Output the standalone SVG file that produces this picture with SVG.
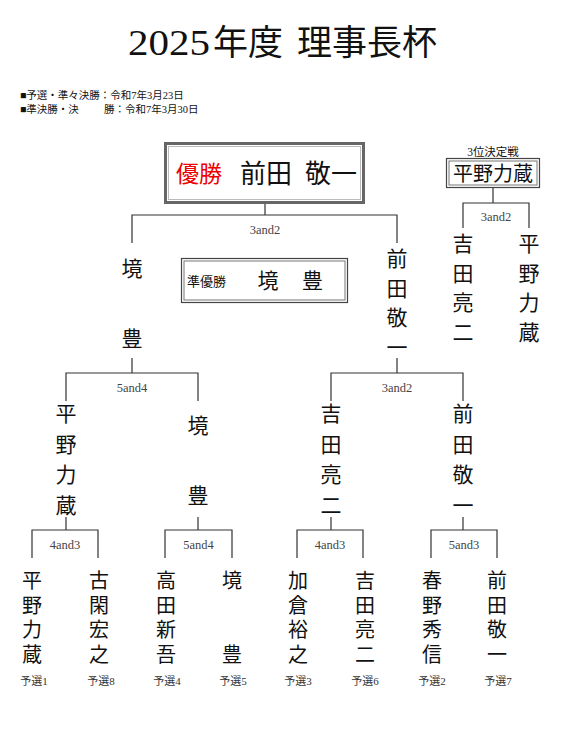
<svg xmlns="http://www.w3.org/2000/svg" width="567" height="730" viewBox="0 0 567 730">
<style>
text{font-family:"Liberation Serif","Noto Sans CJK JP",serif;fill:#111}
.t{font-size:35px}
.note{font-size:10.5px}
.sc{font-size:12.5px;fill:#444;text-anchor:middle}
.q{font-size:11px;fill:#333;text-anchor:middle}
.n2{font-size:21px;text-anchor:middle}
.n3{font-size:20px;text-anchor:middle}
.con{fill:none;stroke:#333;stroke-width:1.2}
</style>
<rect width="567" height="730" fill="#fff"/>
<g id="title">
<text class="t" x="128" y="55" textLength="82" lengthAdjust="spacingAndGlyphs">2025</text>
<text class="t" y="55"><tspan x="213">年度</tspan><tspan x="297">理事長杯</tspan></text>
</g>
<g id="notes">
<text class="note" x="20" y="99">■予選・準々決勝：令和7年3月23日</text>
<text class="note" y="113"><tspan x="20">■準決勝・決</tspan><tspan x="104">勝：令和7年3月30日</tspan></text>
</g>
<g id="connectors" class="con">
<path d="M265 203V215M132 243V215H397V243"/>
<path d="M132 358V373M66 401V373H198V401"/>
<path d="M397 358V373M331 401V373H463V401"/>
<path d="M66 517V530M32 558V530H98V558"/>
<path d="M198 517V530M165 558V530H232V558"/>
<path d="M331 517V530M297 558V530H363V558"/>
<path d="M463 517V530M431 558V530H497V558"/>
<path d="M493 188V203M463 228V203H529V228"/>
</g>
<g id="scores">
<text class="sc" x="265" y="234">3and2</text>
<text class="sc" x="132" y="392">5and4</text>
<text class="sc" x="397" y="392">3and2</text>
<text class="sc" x="65" y="549">4and3</text>
<text class="sc" x="198.5" y="549">5and4</text>
<text class="sc" x="330" y="549">4and3</text>
<text class="sc" x="464" y="549">5and3</text>
<text class="sc" x="496" y="221">3and2</text>
</g>
<g id="winner">
<rect x="165.5" y="143.5" width="198" height="59" fill="#fff" stroke="#666" stroke-width="3"/>
<rect x="168.5" y="146.5" width="192" height="53" fill="none" stroke="#bbb" stroke-width="1"/>
<text x="176" y="182" style="font-size:23px;fill:#e00">優勝</text>
<text y="183" style="font-size:26px"><tspan x="240">前田</tspan><tspan x="305">敬一</tspan></text>
</g>
<g id="runnerup">
<rect x="181.5" y="258.5" width="166" height="44" fill="#fff" stroke="#444" stroke-width="1.2"/>
<rect x="184" y="261" width="161" height="39" fill="none" stroke="#777" stroke-width="1"/>
<text x="187" y="286" style="font-size:13px">準優勝</text>
<text y="288" style="font-size:21px"><tspan x="257.5">境</tspan><tspan x="302">豊</tspan></text>
</g>
<g id="third">
<text x="493" y="156" style="font-size:11.5px;text-anchor:middle">3位決定戦</text>
<rect x="446.5" y="158.5" width="93" height="29" fill="#fff" stroke="#444" stroke-width="1.2"/>
<rect x="449" y="161" width="88" height="24" fill="none" stroke="#777" stroke-width="1"/>
<text x="493" y="181" style="font-size:20px;text-anchor:middle">平野力蔵</text>
<text class="n2"><tspan x="463" y="251">吉</tspan><tspan x="463" dy="29.5">田</tspan><tspan x="463" dy="29.5">亮</tspan><tspan x="463" dy="29.5">二</tspan></text>
<text class="n2"><tspan x="529" y="251">平</tspan><tspan x="529" dy="29.5">野</tspan><tspan x="529" dy="29.5">力</tspan><tspan x="529" dy="29.5">蔵</tspan></text>
</g>
<g id="sf-left">
<text class="n2"><tspan x="132" y="276">境</tspan><tspan x="132" y="346">豊</tspan></text>
</g>
<g id="sf-right">
<text class="n2"><tspan x="397" y="266">前</tspan><tspan x="397" dy="29.5">田</tspan><tspan x="397" dy="29.5">敬</tspan><tspan x="397" dy="29.5">一</tspan></text>
</g>
<g id="qf1">
<text class="n2"><tspan x="66" y="421">平</tspan><tspan x="66" dy="30.7">野</tspan><tspan x="66" dy="30.7">力</tspan><tspan x="66" dy="30.7">蔵</tspan></text>
</g>
<g id="qf2">
<text class="n2"><tspan x="198" y="433">境</tspan><tspan x="198" y="503">豊</tspan></text>
</g>
<g id="qf3">
<text class="n2"><tspan x="331" y="421">吉</tspan><tspan x="331" dy="30.7">田</tspan><tspan x="331" dy="30.7">亮</tspan><tspan x="331" dy="30.7">二</tspan></text>
</g>
<g id="qf4">
<text class="n2"><tspan x="463" y="421">前</tspan><tspan x="463" dy="30.7">田</tspan><tspan x="463" dy="30.7">敬</tspan><tspan x="463" dy="30.7">一</tspan></text>
</g>
<g id="p1"><text class="n3"><tspan x="32" y="588">平</tspan><tspan x="32" dy="24.5">野</tspan><tspan x="32" dy="24.5">力</tspan><tspan x="32" dy="24.5">蔵</tspan></text><text class="q" x="34" y="685">予選1</text></g>
<g id="p8"><text class="n3"><tspan x="99" y="588">古</tspan><tspan x="99" dy="24.5">閑</tspan><tspan x="99" dy="24.5">宏</tspan><tspan x="99" dy="24.5">之</tspan></text><text class="q" x="101" y="685">予選8</text></g>
<g id="p4"><text class="n3"><tspan x="166" y="588">高</tspan><tspan x="166" dy="24.5">田</tspan><tspan x="166" dy="24.5">新</tspan><tspan x="166" dy="24.5">吾</tspan></text><text class="q" x="167" y="685">予選4</text></g>
<g id="p5"><text class="n3"><tspan x="232" y="588">境</tspan><tspan x="232" y="661.5">豊</tspan></text><text class="q" x="233" y="685">予選5</text></g>
<g id="p3"><text class="n3"><tspan x="298" y="588">加</tspan><tspan x="298" dy="24.5">倉</tspan><tspan x="298" dy="24.5">裕</tspan><tspan x="298" dy="24.5">之</tspan></text><text class="q" x="298" y="685">予選3</text></g>
<g id="p6"><text class="n3"><tspan x="365" y="588">吉</tspan><tspan x="365" dy="24.5">田</tspan><tspan x="365" dy="24.5">亮</tspan><tspan x="365" dy="24.5">二</tspan></text><text class="q" x="365" y="685">予選6</text></g>
<g id="p2"><text class="n3"><tspan x="432" y="588">春</tspan><tspan x="432" dy="24.5">野</tspan><tspan x="432" dy="24.5">秀</tspan><tspan x="432" dy="24.5">信</tspan></text><text class="q" x="432" y="685">予選2</text></g>
<g id="p7"><text class="n3"><tspan x="497" y="588">前</tspan><tspan x="497" dy="24.5">田</tspan><tspan x="497" dy="24.5">敬</tspan><tspan x="497" dy="24.5">一</tspan></text><text class="q" x="498" y="685">予選7</text></g>
</svg>
